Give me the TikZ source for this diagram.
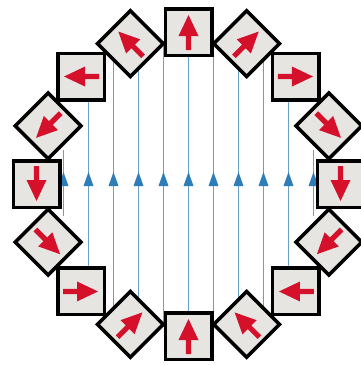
\documentclass[tikz,border=0pt]{standalone}
\definecolor{magred}{RGB}{212,16,42}
\definecolor{boxgray}{RGB}{231,229,226}
\definecolor{fieldblue}{RGB}{105,160,200}
\definecolor{headblue}{RGB}{45,125,185}
\begin{document}
\begin{tikzpicture}[x=1pt,y=1pt,
  magnet/.style={draw=black, line width=3.5pt, fill=boxgray, minimum size=46.5pt, inner sep=0pt, outer sep=0pt},
  fieldline/.style={draw=fieldblue, line width=1.8pt},
  fieldhead/.style={fill=headblue},
  magarrow/.style={fill=magred}]
\useasboundingbox (0,-365) rectangle (361,0);
\fill[white] (0,-365) rectangle (361,0);
\coordinate (c) at (188.5,-184);
% field lines
\begin{scope}
\clip (c) circle (145);
\foreach \i in {1,...,9}{
  \pgfmathsetmacro\xx{188.5+25*(\i-5)}
  \coordinate (ft\i) at (\xx,-20);
  \coordinate (fb\i) at (\xx,-350);
  \draw[fieldline] (ft\i) -- (fb\i);
}
\end{scope}
\foreach \i/\xx in {0/63.5,10/313.5}{
  \coordinate (ft\i) at (\xx,-150);
  \coordinate (fb\i) at (\xx,-216);
  \draw[fieldline] (ft\i) -- (fb\i);
}
\foreach \i in {0,...,10}{
  \pgfmathsetmacro\xx{188.5+25*(\i-5)}
  \fill[fieldhead] (\xx-5,-186) -- (\xx+5,-186) -- (\xx,-172) -- cycle;
}
% magnets
\foreach \i in {0,...,15}{
  \pgfmathsetmacro\th{90-22.5*\i}
  \pgfmathsetmacro\rot{45*mod(\i,2)}
  \pgfmathsetmacro\ar{2*\th-90}
  \node[magnet, rotate=\rot] (m\i) at ([shift={(\th:152)}]c) {};
  \begin{scope}[shift={(m\i.center)}, rotate=\ar]
    \fill[magarrow] (-18,-2.6) -- (-4,-2.6) -- (-4,-10) -- (17,0) -- (-4,10) -- (-4,2.6) -- (-18,2.6) -- cycle;
  \end{scope}
}
\end{tikzpicture}
\end{document}
